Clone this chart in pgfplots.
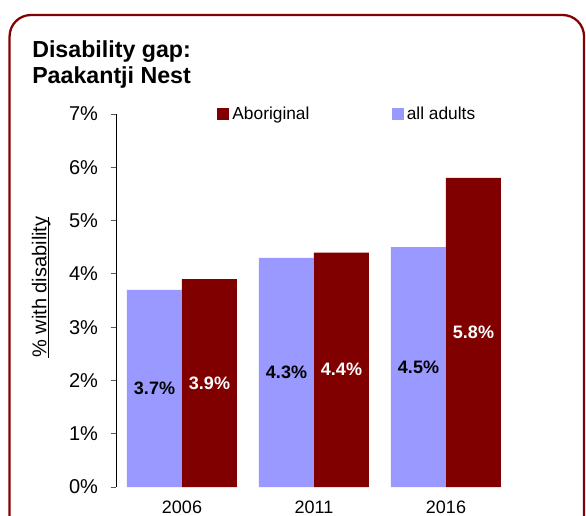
\documentclass[border=0pt]{standalone}
\usepackage{pgfplots}
\pgfplotsset{compat=1.18}
\usepackage{pgfplotstable}
\usepackage{fontspec}
\setmainfont{Liberation Sans}
\definecolor{abo}{HTML}{800000}
\definecolor{alla}{HTML}{9999FF}
\definecolor{framec}{HTML}{850000}
\newcommand\ul[1]{\setbox0\hbox{#1}\rlap{\rule[-1.7pt]{\wd0}{0.7pt}}\box0}
\pgfplotstableread{
x all abo
0 3.7 3.9
1 4.3 4.4
2 4.5 5.8
}\data
\begin{document}
\begin{tikzpicture}
\useasboundingbox (0,0) rectangle (439.5pt,-386.25pt);
\clip (0,0) rectangle (439.5pt,-386.25pt);
\draw[framec, line width=1.7pt, rounded corners=16pt] (7.2pt,-11.25pt) rectangle (438pt,-420pt);
\node[anchor=base west, inner sep=0pt, font=\fontsize{17.4}{20}\selectfont\bfseries] at (24pt,-42.75pt) {Disability gap:};
\node[anchor=base west, inner sep=0pt, font=\fontsize{17.4}{20}\selectfont\bfseries] at (24pt,-62.5pt) {Paakantji Nest};
\begin{axis}[
  at={(87pt,-365.25pt)}, anchor=south west,
  scale only axis, width=297pt, height=279.75pt,
  xmin=-0.5, xmax=2.5, ymin=0, ymax=7,
  axis x line=bottom, axis y line=left,
  x axis line style={draw=none},
  y axis line style={-, black, line width=0.6pt},
  xtick={0,1,2}, xticklabels={2006,2011,2016},
  xtick style={draw=none},
  ytick={0,1,...,7},
  yticklabel={\pgfmathprintnumber{\tick}\%},
  /pgf/number format/assume math mode=true,
  tick align=outside, major tick length=4pt,
  ytick style={black!65, line width=0.6pt},
  yticklabel style={font=\fontsize{15}{18}\selectfont, xshift=-6pt},
  xticklabel style={font=\fontsize{13.5}{16}\selectfont, inner sep=0pt, yshift=-6pt},
  ylabel={\ul{\% with disability}},
  ylabel style={at={(axis description cs:-0.176,0.536)}, anchor=base, font=\fontsize{15}{18}\selectfont},
  legend columns=2,
  legend image code/.code={\fill[#1] (0pt,-4.5pt) rectangle (9pt,4.5pt);},
  legend style={at={(0.2546,1.0)}, anchor=west, draw=none, fill=none, inner sep=0pt,
    font=\fontsize{13}{15}\selectfont, nodes={inner sep=0pt},
    /tikz/every odd column/.append style={column sep=2.5pt},
    /tikz/every even column/.append style={column sep=61.5pt}},
]
\addplot[ybar, bar width=41.25pt, bar shift=20.625pt, fill=abo, draw=none] table[x=x, y=abo] {\data};
\addlegendentry{Aboriginal}
\addplot[ybar, bar width=41.25pt, bar shift=-20.625pt, fill=alla, draw=none] table[x=x, y=all] {\data};
\addlegendentry{all adults}
\addplot[draw=none, mark=none, forget plot,
  nodes near coords={\pgfmathprintnumber[fixed,fixed zerofill,precision=1]{\pgfplotspointmeta}\%},
  point meta=\thisrow{all},
  nodes near coords style={anchor=center, font=\fontsize{13.5}{16}\selectfont\bfseries, text=black}]
  table[x expr=\thisrow{x}-0.2083, y expr=\thisrow{all}/2] {\data};
\addplot[draw=none, mark=none, forget plot,
  nodes near coords={\pgfmathprintnumber[fixed,fixed zerofill,precision=1]{\pgfplotspointmeta}\%},
  point meta=\thisrow{abo},
  nodes near coords style={anchor=center, font=\fontsize{13.5}{16}\selectfont\bfseries, text=white}]
  table[x expr=\thisrow{x}+0.2083, y expr=\thisrow{abo}/2] {\data};
\end{axis}
\end{tikzpicture}
\end{document}
